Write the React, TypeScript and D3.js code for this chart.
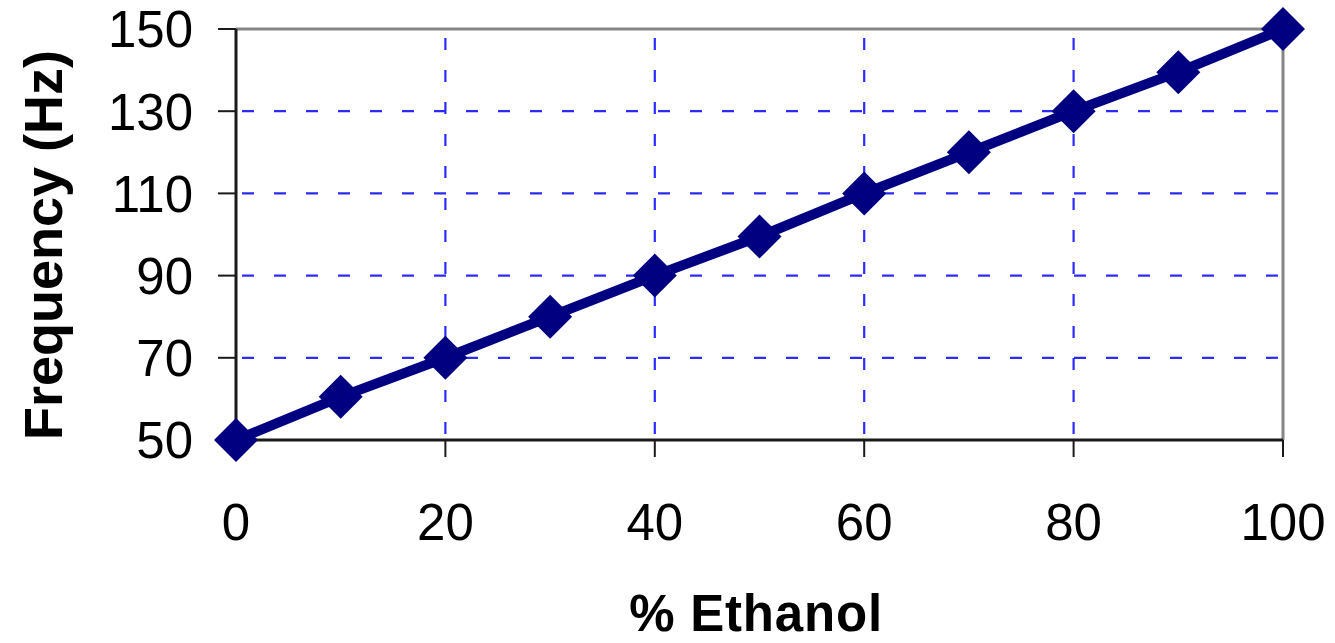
import React from "react";
import * as d3 from "d3";

const ethanol = [0, 10, 20, 30, 40, 50, 60, 70, 80, 90, 100];
const frequency = [50, 60.5, 70, 80, 90, 99.5, 110, 120, 130, 139.5, 150];
const xTicks = [0, 20, 40, 60, 80, 100];
const yTicks = [50, 70, 90, 110, 130, 150];
const xTitle = "% Ethanol";
const yTitle = "Frequency (Hz)";

const W = 1335;
const H = 643;
const M = { left: 236, right: 1283, top: 29, bottom: 440 };

export default function App() {
  const x = d3.scaleLinear().domain([0, 100]).range([M.left, M.right]);
  const y = d3.scaleLinear().domain([50, 150]).range([M.bottom, M.top]);
  const pts = ethanol.map((e, i) => [x(e), y(frequency[i])] as [number, number]);
  const line = d3.line()(pts) || "";
  const r = 22;
  const font = "'Liberation Sans', Arial, sans-serif";
  return (
    <svg width={W} height={H} style={{ position: "absolute", left: 0, top: 0, background: "#fff" }}>
      {/* grid */}
      {yTicks.filter((t) => t !== 50 && t !== 150).map((t) => (
        <line key={"gy" + t} x1={M.left} x2={M.right} y1={y(t)} y2={y(t)} stroke="#2b2bff" strokeWidth={2.2} strokeDasharray="12,20" strokeDashoffset={-6} />
      ))}
      {xTicks.filter((t) => t !== 0 && t !== 100).map((t) => (
        <line key={"gx" + t} x1={x(t)} x2={x(t)} y1={M.bottom} y2={M.top} stroke="#2b2bff" strokeWidth={2.2} strokeDasharray="12,20" strokeDashoffset={-6} />
      ))}
      {/* frame top/right */}
      <line x1={M.left} x2={M.right} y1={M.top} y2={M.top} stroke="#858585" strokeWidth={3} />
      <line x1={M.right} x2={M.right} y1={M.top} y2={M.bottom} stroke="#858585" strokeWidth={3} />
      {/* axes */}
      <line x1={M.left} x2={M.left} y1={M.top} y2={M.bottom} stroke="#1a1a1a" strokeWidth={3} />
      <line x1={M.left} x2={M.right} y1={M.bottom} y2={M.bottom} stroke="#1a1a1a" strokeWidth={3} />
      {yTicks.map((t) => (
        <g key={"yt" + t}>
          <line x1={M.left - 18} x2={M.left} y1={y(t)} y2={y(t)} stroke="#1a1a1a" strokeWidth={2} />
          <text x={M.left - 43} y={y(t)} dy="0.36em" textAnchor="end" fontFamily={font} fontSize={51} fill="#000">{t}</text>
        </g>
      ))}
      {xTicks.map((t) => (
        <g key={"xt" + t}>
          <line x1={x(t)} x2={x(t)} y1={M.bottom} y2={M.bottom + 17} stroke="#1a1a1a" strokeWidth={2} />
          <text x={x(t)} y={540} textAnchor="middle" fontFamily={font} fontSize={51} fill="#000">{t}</text>
        </g>
      ))}
      {/* series */}
      <path d={line} fill="none" stroke="#000080" strokeWidth={10} strokeLinejoin="round" />
      {pts.map(([px, py], i) => (
        <path key={"m" + i} d={`M${px},${py - r}L${px + r},${py}L${px},${py + r}L${px - r},${py}Z`} fill="#000080" />
      ))}
      {/* titles */}
      <text x={756} y={631} textAnchor="middle" fontFamily={font} fontWeight="bold" fontSize={51} fill="#000" letterSpacing={0.8}>{xTitle}</text>
      <text transform={`translate(62,245) rotate(-90)`} textAnchor="middle" fontFamily={font} fontWeight="bold" fontSize={54} fill="#000" textLength={390} lengthAdjust="spacingAndGlyphs">{yTitle}</text>
    </svg>
  );
}
